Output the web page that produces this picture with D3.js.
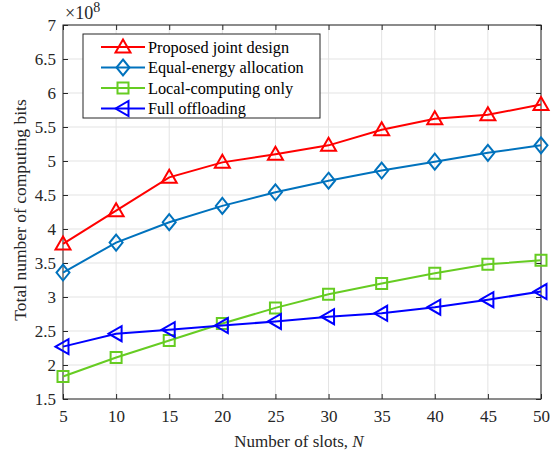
<!DOCTYPE html>
<html>
<head>
<meta charset="utf-8">
<script src="https://cdn.jsdelivr.net/npm/d3@7"></script>
<style>
  body { margin: 0; background: #fff; }
  svg { font-family: "Liberation Serif", "Times New Roman", serif; }
</style>
</head>
<body>
<div id="chart"></div>
<script>
// Total computing bits vs number of slots (values in units of 1e8)
const slots = [5, 10, 15, 20, 25, 30, 35, 40, 45, 50];
const proposed = [3.78, 4.27, 4.76, 4.98, 5.10, 5.23, 5.46, 5.62, 5.68, 5.83];
const equalEnergy = [3.36, 3.80, 4.10, 4.34, 4.54, 4.71, 4.86, 4.99, 5.12, 5.23];
const localOnly = [1.83, 2.11, 2.36, 2.61, 2.84, 3.04, 3.20, 3.35, 3.48, 3.54];
const fullOffload = [2.27, 2.46, 2.52, 2.58, 2.64, 2.71, 2.76, 2.85, 2.96, 3.08];
const yTicks = [1.5, 2, 2.5, 3, 3.5, 4, 4.5, 5, 5.5, 6, 6.5, 7];
const seriesNames = ["Proposed joint design", "Equal-energy allocation", "Local-computing only", "Full offloading"];

const series = [
  { name: seriesNames[0], values: proposed, color: "#ff0000", marker: "triangleUp" },
  { name: seriesNames[1], values: equalEnergy, color: "#0072bd", marker: "diamond" },
  { name: seriesNames[2], values: localOnly, color: "#66cc22", marker: "square" },
  { name: seriesNames[3], values: fullOffload, color: "#0000ff", marker: "triangleLeft" }
];

const W = 559, H = 456;
const margin = { top: 25, right: 18, bottom: 57, left: 63 };
const width = W - margin.left - margin.right;
const height = H - margin.top - margin.bottom;

const svg = d3.select("#chart").append("svg")
  .attr("width", W).attr("height", H);
const g = svg.append("g").attr("transform", `translate(${margin.left},${margin.top})`);

const x = d3.scaleLinear().domain([5, 50]).range([0, width]);
const y = d3.scaleLinear().domain([1.5, 7]).range([height, 0]);

// grid
g.append("g").selectAll("line").data(slots).enter().append("line")
  .attr("x1", d => x(d)).attr("x2", d => x(d))
  .attr("y1", 0).attr("y2", height)
  .attr("stroke", "#e3e3e3").attr("stroke-width", 1);
g.append("g").selectAll("line").data(yTicks).enter().append("line")
  .attr("x1", 0).attr("x2", width)
  .attr("y1", d => y(d)).attr("y2", d => y(d))
  .attr("stroke", "#e3e3e3").attr("stroke-width", 1);

// axes (ticks pointing inward, MATLAB box style)
const axisColor = "#262626";
function styleAxis(sel) {
  sel.select(".domain").remove();
  sel.selectAll(".tick line").attr("stroke", axisColor);
  sel.selectAll(".tick text").attr("fill", axisColor)
    .style("font-size", "17px").style("font-family", "Liberation Serif");
}
g.append("g").attr("transform", `translate(0,${height})`)
  .call(d3.axisBottom(x).tickValues(slots).tickSize(-5).tickPadding(11))
  .call(styleAxis);
g.append("g")
  .call(d3.axisLeft(y).tickValues(yTicks).tickFormat(d3.format("")).tickSize(-5).tickPadding(7))
  .call(styleAxis);
g.append("g")
  .call(d3.axisTop(x).tickValues(slots).tickSize(-5).tickFormat(""))
  .call(styleAxis);
g.append("g").attr("transform", `translate(${width},0)`)
  .call(d3.axisRight(y).tickValues(yTicks).tickSize(-5).tickFormat(""))
  .call(styleAxis);

g.append("rect")
  .attr("x", 0).attr("y", 0).attr("width", width).attr("height", height)
  .attr("fill", "none").attr("stroke", axisColor).attr("stroke-width", 1);

// marker paths
function markerPath(type) {
  switch (type) {
    case "triangleUp": return "M0,-7.5L7.5,5.5L-7.5,5.5Z";
    case "diamond": return "M0,-8L6.5,0L0,8L-6.5,0Z";
    case "square": return "M-5.5,-5.5L5.5,-5.5L5.5,5.5L-5.5,5.5Z";
    case "triangleLeft": return "M-7.5,0L5.5,-7.5L5.5,7.5Z";
  }
}

const line = d3.line().x((d, i) => x(slots[i])).y(d => y(d));

series.forEach(s => {
  g.append("path")
    .datum(s.values)
    .attr("fill", "none")
    .attr("stroke", s.color)
    .attr("stroke-width", 2)
    .attr("d", line);
  g.append("g").selectAll("path").data(s.values).enter().append("path")
    .attr("transform", (d, i) => `translate(${x(slots[i])},${y(d)})`)
    .attr("d", markerPath(s.marker))
    .attr("fill", "none")
    .attr("stroke", s.color)
    .attr("stroke-width", 2);
});

// legend
const legend = g.append("g").attr("transform", "translate(20,9)");
legend.append("rect")
  .attr("x", 0).attr("y", 0).attr("width", 237).attr("height", 84)
  .attr("fill", "#fff").attr("stroke", axisColor).attr("stroke-width", 1);
series.forEach((s, i) => {
  const ly = 13 + i * 20.5;
  legend.append("line")
    .attr("x1", 18).attr("x2", 62).attr("y1", ly).attr("y2", ly)
    .attr("stroke", s.color).attr("stroke-width", 2);
  legend.append("path")
    .attr("transform", `translate(40,${ly})`)
    .attr("d", markerPath(s.marker))
    .attr("fill", "none").attr("stroke", s.color).attr("stroke-width", 2);
  legend.append("text")
    .attr("x", 65).attr("y", ly + 5.5)
    .style("font-size", "16.3px").attr("fill", "#000")
    .text(s.name);
});

// exponent label
const expo = svg.append("text")
  .attr("x", margin.left + 2).attr("y", 19)
  .attr("font-family", "Liberation Serif")
  .attr("font-size", 18)
  .attr("fill", axisColor);
expo.append("tspan").attr("font-size", 18).text("\u00d710");
expo.append("tspan").attr("dy", -7).attr("font-size", 14).text("8");

// axis labels
svg.append("text")
  .attr("x", margin.left + width / 2 - 3).attr("y", 447)
  .attr("text-anchor", "middle")
  .style("font-size", "17px").attr("fill", axisColor)
  .call(t => {
    t.append("tspan").text("Number of slots, ");
    t.append("tspan").style("font-style", "italic").text("N");
  });

svg.append("text")
  .attr("transform", `translate(26,${margin.top + height / 2 - 2}) rotate(-90)`)
  .attr("text-anchor", "middle")
  .style("font-size", "17.5px").attr("fill", axisColor)
  .text("Total number of computing bits");
</script>
</body>
</html>
